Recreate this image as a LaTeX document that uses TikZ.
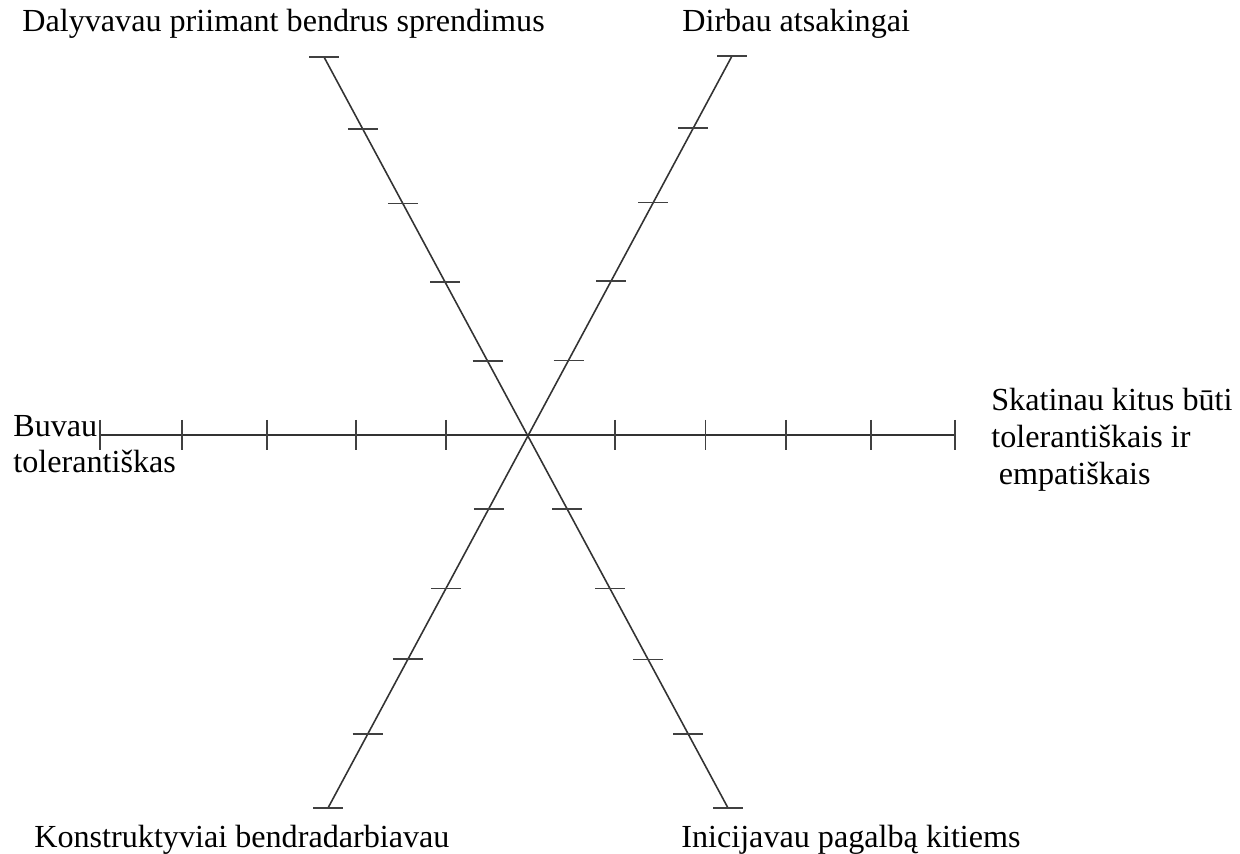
\documentclass[tikz,border=0pt]{standalone}
\usepackage{fontspec}
\setmainfont{Liberation Serif}
\usepackage{tikz}
\usetikzlibrary{calc}

\begin{document}
\begin{tikzpicture}[x=0.02cm, y=-0.02cm,
    axis/.style={draw=black!80, line width=0.9pt},
    tickmark/.style={draw=black!75, line width=0.9pt},
    lbl/.style={inner sep=0pt, anchor=base west, align=left, font=\fontsize{18.3}{20.8}\selectfont}]
                                \useasboundingbox (0, 0) rectangle (1240, 854);
                                \coordinate (dal) at (324, 57);
                                \coordinate (ini) at (728, 808);
                                \coordinate (dir) at (732, 56);
                                \coordinate (kon) at (328, 808);
                                \coordinate (buv) at (100, 435);
                                \coordinate (ska) at (955, 435);
                                \draw[axis] (dal) -- (ini);
                                \draw[axis] (dir) -- (kon);
                                \draw[axis] (buv) -- (ska);
                                \foreach \t in {0, 0.096, 0.195, 0.2995, 0.4047, 0.6021, 0.708, 0.802, 0.9017, 1} {
                                    \draw[tickmark] ($(dal)!\t!(ini)$) +(-15, 0) -- +(15, 0);
                                    \draw[tickmark] ($(dir)!\t!(kon)$) +(-15, 0) -- +(15, 0);
                                    \draw[tickmark] ($(buv)!\t!(ska)$) +(0, -15) -- +(0, 15);
                                }
                                \node[lbl] (ldal) at (22, 32) {Dalyvavau priimant bendrus sprendimus};
                                \node[lbl] (ldir) at (682, 32) {Dirbau atsakingai};
                                \node[lbl] (lbuv) at (13, 473) {Buvau\\tolerantiškas};
                                \node[lbl] (lska) at (991, 484) {Skatinau kitus būti\\tolerantiškais ir\\\hspace*{0.15cm}empatiškais};
                                \node[lbl] (lkon) at (34, 847) {Konstruktyviai bendradarbiavau};
                                \node[lbl] (lini) at (681, 847) {Inicijavau pagalbą kitiems};
                            \end{tikzpicture}
\end{document}
